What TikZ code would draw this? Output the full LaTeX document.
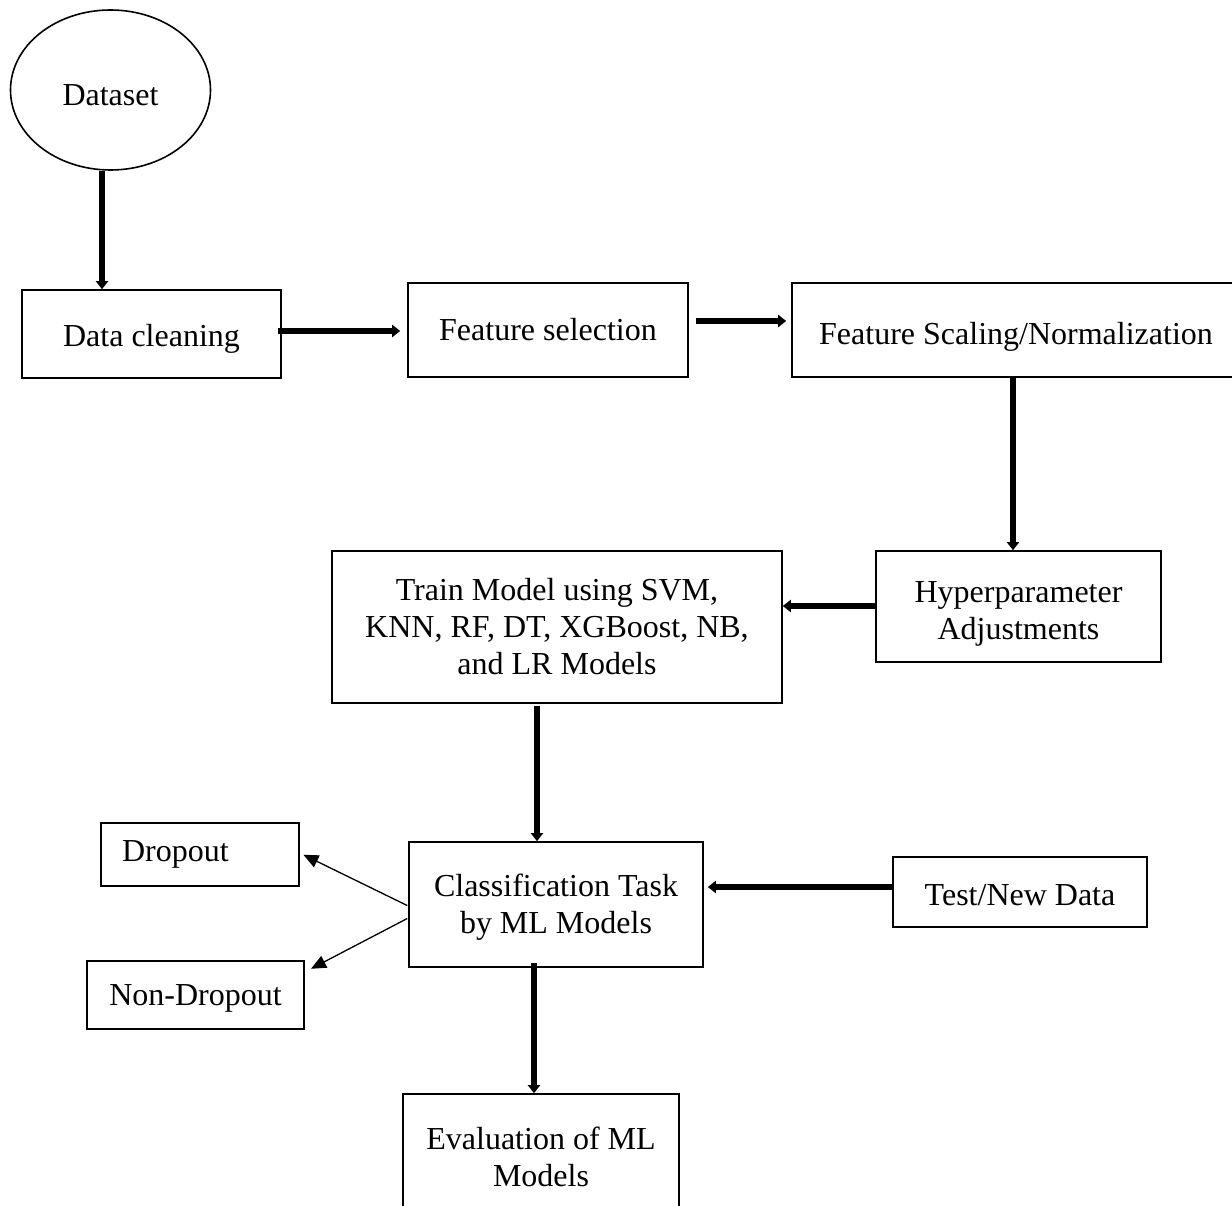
\documentclass[tikz,border=0pt]{standalone}
\usepackage{fontspec}
\setmainfont{Liberation Serif}
\usetikzlibrary{arrows.meta,shapes.geometric}
\newcommand\lowr[1]{\rule{0pt}{#1}}
\begin{document}
\begin{tikzpicture}[x=1pt,y=-1pt,
  every node/.style={font=\fontsize{32}{37}\selectfont, text=black},
  box/.style={draw, line width=1.6pt, rectangle, inner sep=0pt, align=center},
  thk/.style={line width=5.5pt, -{Triangle[length=8pt,width=12pt]}},
  thn/.style={line width=1.3pt, -{Triangle[length=15pt,width=13pt]}}]
\useasboundingbox (0,0) rectangle (1232,1206);
\clip (0,0) rectangle (1232,1206);

\node[draw, ellipse, line width=1.6pt, minimum width=200pt, minimum height=160pt, inner sep=0pt] (ds) at (110.5,90) {\lowr{32pt}Dataset};
\node[box, minimum width=259pt, minimum height=88pt] (dc) at (151.5,334) {\lowr{32pt}Data cleaning};
\node[box, minimum width=280pt, minimum height=94pt] (fs) at (548,330) {Feature selection};
\node[box, minimum width=448pt, minimum height=94pt] (fsn) at (1016,330) {\lowr{35pt}Feature Scaling/Normalization};
\node[box, minimum width=285pt, minimum height=111pt] (hp) at (1018.5,606.5) {\lowr{36pt}Hyperparameter\\Adjustments};
\node[box, minimum width=450pt, minimum height=152pt] (tr) at (557,627) {Train Model using SVM,\\KNN, RF, DT, XGBoost, NB,\\and LR Models};
\node[box, minimum width=294pt, minimum height=125pt] (cl) at (556,904.5) {\lowr{28pt}Classification Task\\by ML Models};
\node[box, minimum width=254pt, minimum height=70pt] (td) at (1020,892) {\lowr{28pt}Test/New Data};
\node[box, minimum height=63pt, text width=156pt, inner xsep=21pt, align=left] (dr) at (200,854.5) {Dropout};
\node[box, minimum width=217pt, minimum height=68pt] (nd) at (195.5,995) {\lowr{28pt}Non-Dropout};
\node[box, minimum width=276pt, minimum height=126pt] (ev) at (541,1157) {Evaluation of ML\\Models};

\draw[thk] (ds.south -| 102,0) -- (dc.north -| 102,0);
\draw[thk, shorten <=-4pt, shorten >=7pt] (dc.east |- 0,331) -- (fs.west |- 0,331);
\draw[thk, shorten <=7pt, shorten >=5pt] (fs.east |- 0,321) -- (fsn.west |- 0,321);
\draw[thk, shorten <=-2pt] (fsn.south -| 1013,0) -- (hp.north -| 1013,0);
\draw[thk] (hp.west |- 0,606) -- (tr.east |- 0,606);
\draw[thk, shorten <=2pt] (tr.south -| 537,0) -- (cl.north -| 537,0);
\draw[thk, shorten >=4pt] (td.west |- 0,887) -- (cl.east |- 0,887);
\draw[thn, shorten <=1pt, shorten >=4pt] (cl.west |- 0,906) -- (dr.east |- 0,853);
\draw[thn, shorten <=1pt, shorten >=7pt] (cl.west |- 0,918) -- (nd.east |- 0,972);
\draw[thk, shorten <=-5pt] (cl.south -| 534,0) -- (ev.north -| 534,0);
\end{tikzpicture}
\end{document}
